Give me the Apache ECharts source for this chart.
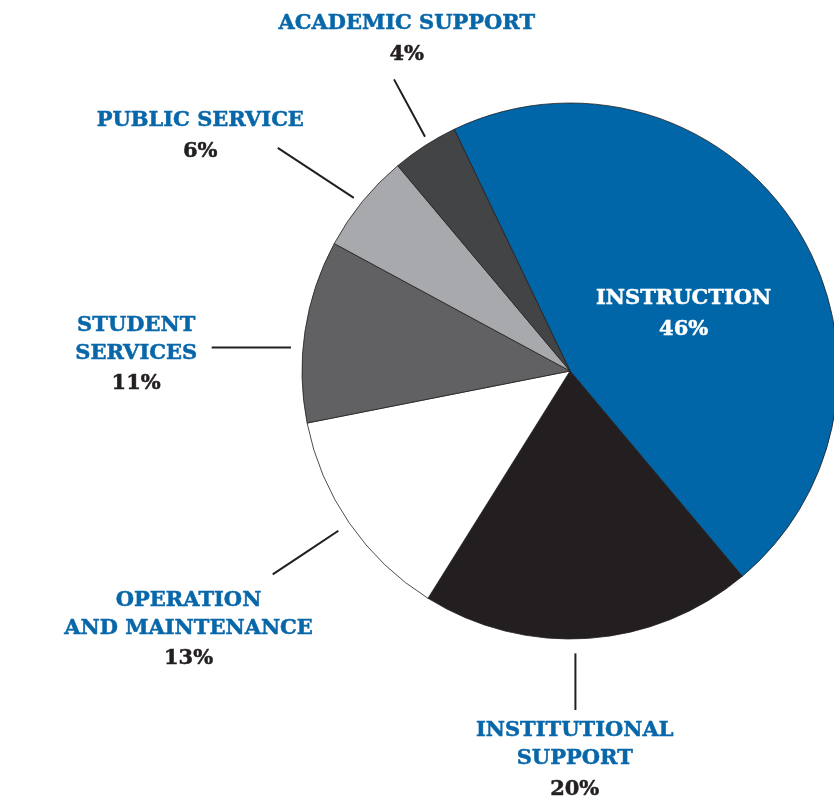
<!DOCTYPE html>
<html>
<head>
<meta charset="utf-8">
<script src="https://cdn.jsdelivr.net/npm/echarts@6/dist/echarts.min.js"></script>
<style>
html,body{margin:0;padding:0;background:#fff;}
#chart{width:834px;height:799px;}
</style>
</head>
<body>
<div id="chart"></div>
<script>
// ---- data ----
const categories = ['INSTRUCTION', 'INSTITUTIONAL\nSUPPORT', 'OPERATION\nAND MAINTENANCE', 'STUDENT\nSERVICES', 'PUBLIC SERVICE', 'ACADEMIC SUPPORT'];
const values = [46, 20, 13, 11, 6, 4];

// ---- styles ----
const sliceColors = ['#0066a8', '#231f20', '#ffffff', '#616163', '#a8a9ac', '#434446'];
const CX = 570, CY = 371, R = 268, START_ANGLE = 115.6;
// label placement: a = angle shift from slice middle, gap = distance of line start from rim,
// dir = direction of the leader line (deg clockwise from 12 o'clock), len = its length, dx/dy = text offset from the line end
const labelGeom = [
  { inside: true, rf: 0.5, a: 0, dx: 1, dy: 17 },
  { a: 2.9, gap: 14.4, dir: 180, len: 56.7, dx: -0.7, dy: 51 },
  { a: 0, gap: 13.4, dir: 236.4, len: 78.8, dx: -84.2, dy: 56.5 },
  { a: -3.8, gap: 12, dir: 270, len: 79.3, dx: -75.5, dy: 8 },
  { a: -0.5, gap: 9, dir: 303.3, len: 91, dx: -77.5, dy: -10.5 },
  { a: 1.05, gap: 7.5, dir: 331.6, len: 65.2, dx: 12.7, dy: -39 }
];

const total = values.reduce((s, v) => s + v, 0);
const startCW = 90 - START_ANGLE;
const mids = [];
(function () { let acc = 0; values.forEach(v => { mids.push(startCW + (acc + v / 2) / total * 360); acc += v; }); })();
function polar(r, deg) { const t = deg * Math.PI / 180; return [CX + r * Math.sin(t), CY - r * Math.cos(t)]; }

const chart = echarts.init(document.getElementById('chart'), null, { renderer: 'canvas' });
const FONT = '"DejaVu Serif", "Liberation Serif", serif';

const option = {
  animation: false,
  series: [{
    type: 'pie',
    center: [CX, CY],
    radius: R,
    startAngle: START_ANGLE,
    clockwise: true,
    avoidLabelOverlap: false,
    silent: true,
    itemStyle: { borderColor: '#231f20', borderWidth: 0.8 },
    label: {
      show: true,
      position: 'outside',
      align: 'center',
      formatter: function (p) {
        const lines = p.name.split('\n').map(s => '{n|' + s + '}');
        return lines.join('\n') + '\n{p|' + p.value + '%}';
      },
      rich: {
        n: { fontFamily: FONT, fontWeight: 'bold', fontSize: 21, color: '#0867a9', textBorderColor: '#0867a9', textBorderWidth: 0.5, lineHeight: 28, align: 'center' },
        p: { fontFamily: FONT, fontWeight: 'bold', fontSize: 21, color: '#231f20', textBorderColor: '#231f20', textBorderWidth: 0.5, lineHeight: 33, align: 'center' }
      }
    },
    labelLine: { show: true, length: 20, length2: 0, lineStyle: { color: '#231f20', width: 2 } },
    labelLayout: function (params) {
      const i = params.dataIndex;
      const g = labelGeom[i];
      if (g.inside) {
        const p = polar(R * g.rf, mids[i] + g.a);
        return { x: p[0] + g.dx, y: p[1] + g.dy, align: 'center', verticalAlign: 'middle' };
      }
      const s = polar(R + g.gap, mids[i] + g.a);
      const t = g.dir * Math.PI / 180;
      const e = [s[0] + g.len * Math.sin(t), s[1] - g.len * Math.cos(t)];
      return {
        x: e[0] + g.dx, y: e[1] + g.dy, align: 'center', verticalAlign: 'middle',
        labelLinePoints: [s, [(s[0] + e[0]) / 2, (s[1] + e[1]) / 2], e]
      };
    },
    data: categories.map((name, i) => {
      const d = { name: name, value: values[i], itemStyle: { color: sliceColors[i] } };
      if (labelGeom[i].inside) {
        d.label = {
          position: 'inside',
          rich: {
            n: { color: '#ffffff', textBorderColor: '#ffffff' },
            p: { color: '#ffffff', textBorderColor: '#ffffff' }
          }
        };
        d.labelLine = { show: false };
      }
      return d;
    })
  }]
};
chart.setOption(option);
</script>
</body>
</html>
